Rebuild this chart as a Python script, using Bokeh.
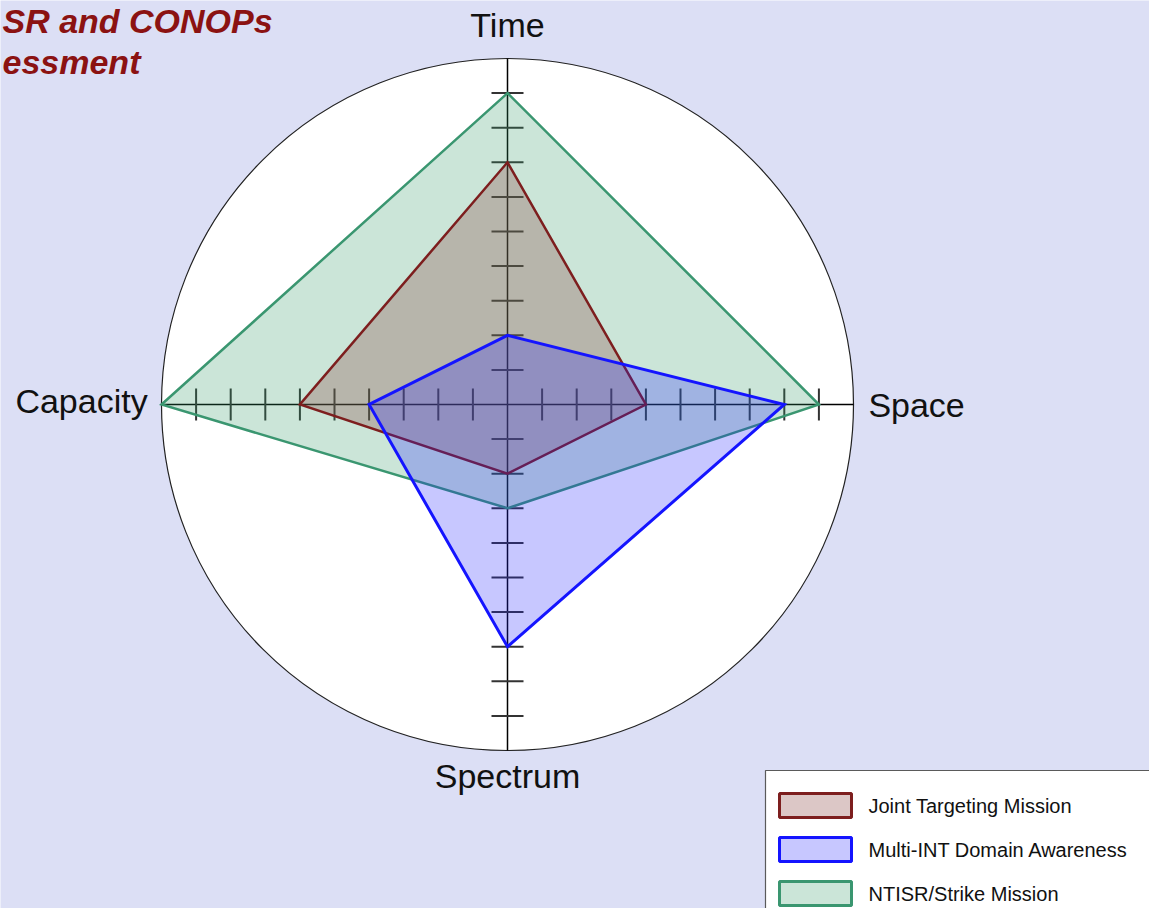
import numpy as np
from bokeh.plotting import figure
from bokeh.models import Range1d
from bokeh.embed import file_html
from bokeh.resources import INLINE
from bokeh.core.properties import value

# ---------------- data ----------------
axis_names = ["Time", "Space", "Spectrum", "Capacity"]
axis_angles_deg = [90, 0, 270, 180]
series_names = ["Joint Targeting Mission", "Multi-INT Domain Awareness", "NTISR/Strike Mission"]
joint = [7, 4, 2, 6]
multi = [2, 8, 7, 4]
ntisr = [9, 9, 3, 10]
scale_max = 10
tick_values = [1, 2, 3, 4, 5, 6, 7, 8, 9]
title_lines = ["SR and CONOPs", "essment"]

# ---------------- layout ----------------
W, H = 1149, 908
PX = 34.6          # pixels per unit
CX, CY = 507, 404  # radar centre in pixels
FONT = "Liberation Sans"


def d(sx, sy):
    """pixel -> data coordinates"""
    return (sx - CX) / PX, (CY - sy) / PX


x0, y0 = d(0, H)
x1, y1 = d(W, 0)

BG = "#dcdff5"
p = figure(width=W, height=H, x_range=Range1d(x0, x1), y_range=Range1d(y0, y1),
           output_backend="svg", toolbar_location=None, min_border=0,
           x_axis_location=None, y_axis_location=None)
p.grid.visible = False
p.outline_line_color = None
p.background_fill_color = BG
p.border_fill_color = BG

ang = np.deg2rad(axis_angles_deg)
ux, uy = np.cos(ang), np.sin(ang)

# outer circle
p.circle(x=[0], y=[0], radius=scale_max, fill_color="white", line_color="#222222", line_width=1.2)

# axis lines
p.segment(x0=[0] * 4, y0=[0] * 4, x1=list(ux * scale_max), y1=list(uy * scale_max),
          line_color="black", line_width=1.5)

# ticks
tl = 16 / PX
tx0, ty0, tx1, ty1 = [], [], [], []
for a_ux, a_uy in zip(ux, uy):
    for t in tick_values:
        cx_, cy_ = a_ux * t, a_uy * t
        px_, py_ = -a_uy, a_ux
        tx0.append(cx_ - px_ * tl); ty0.append(cy_ - py_ * tl)
        tx1.append(cx_ + px_ * tl); ty1.append(cy_ + py_ * tl)
p.segment(x0=tx0, y0=ty0, x1=tx1, y1=ty1, line_color="#333333", line_width=2)

# series polygons (drawn: NTISR, Joint, Multi)
styles = {
    "Joint Targeting Mission": dict(fill=(140, 70, 65), alpha=0.30, line="#7d1e1e", lw=2.5),
    "Multi-INT Domain Awareness": dict(fill=(30, 30, 255), alpha=0.25, line="#1414ff", lw=3),
    "NTISR/Strike Mission": dict(fill=(46, 150, 100), alpha=0.25, line="#3a9670", lw=2.5),
}
series_vals = dict(zip(series_names, [joint, multi, ntisr]))
for name in ["NTISR/Strike Mission", "Joint Targeting Mission", "Multi-INT Domain Awareness"]:
    v = np.array(series_vals[name], dtype=float)
    st = styles[name]
    p.patch(x=list(ux * v), y=list(uy * v), fill_color=st["fill"], fill_alpha=st["alpha"],
            line_color=st["line"], line_width=st["lw"], line_join="miter")

# axis labels
lab_r = [10.98, 10.43, 10.75, 10.4]
lab_align = ["center", "left", "center", "right"]
lab_dy = [0, 0, 0, 4 / PX]
for name, r, al, a_ux, a_uy, dy in zip(axis_names, lab_r, lab_align, ux, uy, lab_dy):
    p.text(x=[a_ux * r], y=[a_uy * r + dy], text=[name], text_font=value(FONT),
           text_font_size="34px", text_align=al, text_baseline="middle", text_color="#111111")

# title (only the visible part of the cropped reference title)
for i, line in enumerate(title_lines):
    tx, ty = d(2, 1 + 41 * i)
    p.text(x=[tx], y=[ty], text=[line], text_font=value(FONT), text_font_size="34px",
           text_font_style="bold italic", text_align="left", text_baseline="top",
           text_color="#8b1212")

# legend (box runs off the right / bottom edge like the reference)
bl, bt = d(765, 770)
br, bb = d(1180, 940)
p.quad(left=[bl], right=[br], top=[bt], bottom=[bb], fill_color="white",
       line_color="#5a5a5a", line_width=1.2)
for i, name in enumerate(series_names):
    st = styles[name]
    rc = 805 + 44 * i
    sl, stp = d(779, rc - 12)
    sr, sb = d(851, rc + 12)
    p.quad(left=[sl], right=[sr], top=[stp], bottom=[sb], fill_color=st["fill"],
           fill_alpha=st["alpha"], line_color=st["line"], line_width=3)
    lx, ly = d(868, rc)
    p.text(x=[lx], y=[ly], text=[name], text_font=value(FONT), text_font_size="20px",
           text_align="left", text_baseline="middle", text_color="#111111")

open("out.html", "w").write(file_html(p, INLINE))
